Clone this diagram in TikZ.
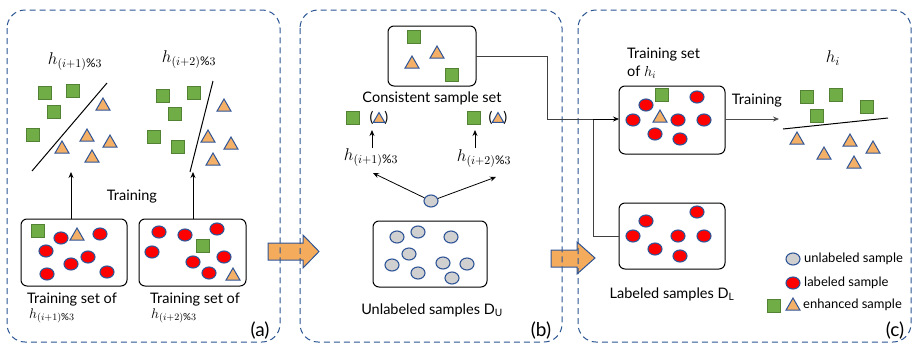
\RequirePackage{fix-cm}
\documentclass[tikz,border=0pt]{standalone}
\usepackage{fontspec}
\setmainfont{Lato}
\usetikzlibrary{shapes.geometric,arrows.meta}
\definecolor{panelblue}{HTML}{2B5592}
\definecolor{edgeblue}{HTML}{2F5597}
\definecolor{sqfill}{HTML}{70AD47}
\definecolor{sqedge}{HTML}{548235}
\definecolor{trifill}{HTML}{F4B066}
\definecolor{blockfill}{HTML}{F4AC5C}
\definecolor{grayfill}{HTML}{D0D0D0}
\tikzset{
  panel/.style={draw=panelblue, dash pattern=on 6pt off 4pt, line width=1pt, rounded corners=18pt},
  setbox/.style={draw=black, line width=1pt, rounded corners=6pt},
  sq/.style={rectangle, draw=sqedge, fill=sqfill, minimum size=13pt, inner sep=0pt, line width=0.7pt},
  tri/.style={regular polygon, regular polygon sides=3, draw=edgeblue, fill=trifill, minimum size=16pt, inner sep=0pt, line width=1pt},
  lab/.style={ellipse, draw=edgeblue, fill=red, minimum width=14pt, minimum height=12pt, inner sep=0pt, line width=1.1pt},
  unl/.style={ellipse, draw=edgeblue, fill=grayfill, minimum width=14pt, minimum height=12pt, inner sep=0pt, line width=1.1pt},
  conn/.style={draw=black, line width=0.8pt, -{Stealth[length=6pt,width=5pt]}},
  sep/.style={draw=black, line width=1pt},
  txt/.style={inner sep=0pt, font=\fontsize{14.5}{16}\selectfont},
  small/.style={inner sep=0pt, font=\fontsize{13}{15}\selectfont},
  hlab/.style={inner sep=0pt, font=\fontsize{17}{19}\selectfont},
  hsmall/.style={inner sep=0pt, font=\fontsize{14}{16}\selectfont},
  tag/.style={inner sep=0pt, font=\fontsize{19}{21}\selectfont},
  block/.style={draw=edgeblue, fill=blockfill, line width=1pt}
}
\begin{document}
\begin{tikzpicture}[x=1pt,y=-1pt]
\useasboundingbox (0,0) rectangle (914,346);

% ---- orange block arrows between panels
\draw[block] (268,243) -- (303,243) -- (303,235) -- (319,251.5) -- (303,268) -- (303,260) -- (268,260) -- cycle;
\draw[block] (551,250) -- (577,250) -- (577,242) -- (595,258) -- (577,274) -- (577,267) -- (551,267) -- cycle;

% ---- panel frames
\draw[panel] (7,10) rectangle (280,342);
\draw[panel] (300,10) rectangle (562,342);
\draw[panel] (578,10) rectangle (911,342);

% ================= panel (a)
\node[hlab] (ha1) at (75,62) {$h_{(i+1)\%3}$};
\node[hlab] (ha2) at (189,60) {$h_{(i+2)\%3}$};

% left classifier scatter
\foreach \x/\y [count=\k] in {45/93,73/91,54/112,33/135}
  \node[sq] (a1s\k) at (\x,\y) {};
\foreach \x/\y [count=\k] in {103/106,87/137,110/143,62/149,92/158}
  \node[tri] (a1t\k) at (\x,\y) {};
\coordinate (a1l1) at (32,171);
\coordinate (a1l2) at (107,83);
\draw[sep] (a1l1) -- (a1l2);

% right classifier scatter
\foreach \x/\y [count=\k] in {163/96,194/93,175/114,154/137,178/147}
  \node[sq] (a2s\k) at (\x,\y) {};
\foreach \x/\y [count=\k] in {224/107,208/138,231/145,213/161}
  \node[tri] (a2t\k) at (\x,\y) {};
\coordinate (a2l1) at (190,172);
\coordinate (a2l2) at (213,81);
\draw[sep] (a2l1) -- (a2l2);

\node[txt] (traina) at (132,197) {Training};

% training sets
\draw[setbox] (21,219) rectangle (127,286);
\draw[setbox] (139,219) rectangle (246,286);
\coordinate (boxa1) at (71,219);
\coordinate (boxa2) at (193,219);
\coordinate (topa1) at (71,172);
\coordinate (topa2) at (193,172);
\draw[conn] (boxa1) -- (topa1);
\draw[conn] (boxa2) -- (topa2);

\node[sq] (b1s1) at (38,231) {};
\foreach \x/\y [count=\k] in {61/238,100/234,46/251,71/264,88/257,47/274,107/272}
  \node[lab] (b1c\k) at (\x,\y) {};
\node[tri] (b1t1) at (77,236) {};

\foreach \x/\y [count=\k] in {159/232,185/235,217/229,152/252,193/262,224/257,209/273}
  \node[lab] (b2c\k) at (\x,\y) {};
\node[sq] (b2s1) at (203,246) {};
\node[tri] (b2t1) at (233,276) {};

\node[txt] (capa1) at (72,300) {Training set of};
\node[hsmall, anchor=west] (capa1h) at (29,316) {$h_{(i+1)\%3}$};
\node[txt] (capa2) at (195,300) {Training set of};
\node[hsmall, anchor=west] (capa2h) at (151,316) {$h_{(i+2)\%3}$};
\node[tag] (taga) at (260,331) {(a)};

% ================= panel (b)
\draw[setbox] (388,26) rectangle (476,86);
\coordinate (consR) at (476,56);
\node[sq] (cs1) at (414,37) {};
\node[tri] (ct1) at (437,54) {};
\node[tri] (ct2) at (412,64) {};
\node[sq] (cs2) at (452,75) {};
\node[txt] (constxt) at (432,98) {Consistent sample set};

\node[sq] (ps1) at (353,118) {};
\node[txt] (pt1) at (379,118) {(\phantom{\rule{11pt}{1pt}})};
\node[tri, minimum size=13pt] (pt1t) at (379,119) {};
\node[sq] (ps2) at (474,118) {};
\node[txt] (pt2) at (498,118) {(\phantom{\rule{11pt}{1pt}})};
\node[tri, minimum size=13pt] (pt2t) at (498,119) {};

\node[hlab] (hb1) at (371,158) {$h_{(i+1)\%3}$};
\node[hlab] (hb2) at (484,159) {$h_{(i+2)\%3}$};
\coordinate (hb1top) at (372,148);
\coordinate (hb2top) at (475,148);
\coordinate (pt1bot) at (372,130);
\coordinate (pt2bot) at (475,130);
\draw[conn] (hb1top) -- (pt1bot);
\draw[conn] (hb2top) -- (pt2bot);

\node[unl] (ux) at (431,201) {};
\coordinate (hb1bot) at (373,173);
\coordinate (hb2bot) at (496,177);
\draw[conn] (ux) -- (hb1bot);
\draw[conn] (ux) -- (hb2bot);

\draw[setbox] (373,221) rectangle (487,287);
\foreach \x/\y [count=\k] in {397/237,418/232,451/237,409/254,392/265,418/273,443/263,467/264,452/278}
  \node[unl] (uc\k) at (\x,\y) {};
\node[txt] (dutxt) at (432,310) {Unlabeled samples $\mathrm{D}_{\mathrm{U}}$};
\node[tag] (tagb) at (541,331) {(b)};

% ================= panel (c)
\node[txt, anchor=west] (trc1) at (627,55) {Training set};
\node[txt, anchor=west] (trc2) at (627,72) {of $h_i$};
\draw[setbox] (619,86) rectangle (725,154);
\coordinate (trainL) at (619,119);
\coordinate (trainR) at (725,119);
\node[sq] (ts1) at (662,95) {};
\foreach \x/\y [count=\k] in {697/97,646/105,633/120,678/120,704/120,655/134,680/139}
  \node[lab] (tc\k) at (\x,\y) {};
\node[tri] (tt1) at (660,118) {};

\coordinate (hiL) at (779,119);
\draw[conn, draw=black!70] (trainR) -- (hiL);
\node[txt] (trainc) at (757,101) {Training};
\node[hlab] (hi) at (833,58) {$h_i$};

\foreach \x/\y [count=\k] in {807/97,836/95,867/107,817/116}
  \node[sq] (hs\k) at (\x,\y) {};
\coordinate (hl1) at (783,129);
\coordinate (hl2) at (888,118);
\draw[sep] (hl1) -- (hl2);
\foreach \x/\y [count=\k] in {797/140,850/142,873/149,824/155,854/164}
  \node[tri] (ht\k) at (\x,\y) {};

\draw[setbox] (619,203) rectangle (725,269);
\coordinate (dlL) at (619,236);
\foreach \x/\y [count=\k] in {697/212,646/221,633/236,678/236,704/236,655/249,680/256}
  \node[lab] (lc\k) at (\x,\y) {};
\node[txt] (dltxt) at (672,294) {Labeled samples $\mathrm{D}_{\mathrm{L}}$};

% consistent set + labeled samples feed the training set of h_i
\coordinate (j1) at (547,56);
\coordinate (j2) at (547,119);
\coordinate (j3) at (593,119);
\coordinate (j4) at (593,236);
\draw[line width=0.8pt, draw=black!75] (consR) -- (j1) -- (j2) -- (j3);
\draw[line width=0.8pt, draw=black!75] (dlL) -- (j4) -- (j3);
\draw[conn] (j3) -- (trainL);

% legend
\node[unl] (lgu) at (793,259) {};
\node[small, anchor=west] (lgut) at (804,259) {unlabeled sample};
\node[lab] (lgl) at (793,283) {};
\node[small, anchor=west] (lglt) at (804,283) {labeled sample};
\node[sq] (lgs) at (774,306) {};
\node[tri] (lgt) at (793,306) {};
\node[small, anchor=west] (lget) at (803,305) {enhanced sample};
\node[tag] (tagc) at (895,331) {(c)};
\end{tikzpicture}
\end{document}
